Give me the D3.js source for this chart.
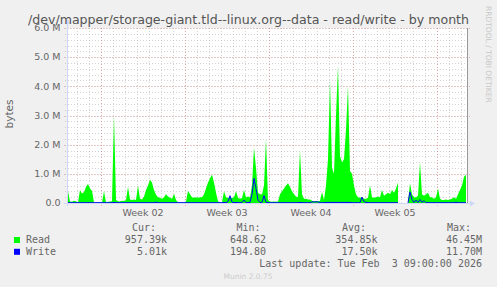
<!DOCTYPE html>
<html>
<head>
<meta charset="utf-8">
<script src="https://cdn.jsdelivr.net/npm/d3@7"></script>
<style>
  body { margin: 0; background: #f0f0f0; }
  svg { display: block; }
</style>
</head>
<body>
<div id="chart"></div>
<script>
// read / write throughput, MB per 4h bucket (two rrd pixels each)
var read = [
  0.40, 0.05, 0.04, 0.08, 0.06, 0.03, 0.45, 0.33, 0.38, 0.55,
  0.65, 0.50, 0.42, 0.03, 0.02, 0.02, 0.03, 0.02, 0.40, 0.03,
  0.04, 0.05, 0.06, 3.00, 0.10, 0.06, 0.05, 0.08, 0.07, 0.10,
  0.55, 0.12, 0.10, 0.12, 0.10, 0.60, 0.15, 0.12, 0.22, 0.45,
  0.60, 0.80, 0.70, 0.45, 0.28, 0.20, 0.18, 0.15, 0.20, 0.30,
  0.22, 0.18, 0.15, 0.32, 0.10, 0.03, 0.02, 0.02, 0.03, 0.05,
  0.42, 0.30, 0.20, 0.18, 0.20, 0.18, 0.20, 0.20, 0.30, 0.50,
  0.70, 0.85, 0.97, 0.70, 0.35, 0.06, 0.03, 0.03, 0.40, 0.20,
  0.17, 0.20, 0.17, 0.20, 0.40, 0.18, 0.15, 0.17, 0.45, 0.20,
  0.22, 0.20, 0.60, 1.90, 1.20, 0.35, 0.30, 0.30, 0.60, 2.20,
  0.10, 0.05, 0.04, 0.05, 0.04, 0.05, 0.30, 0.40, 0.50, 0.60,
  0.68, 0.55, 0.40, 0.30, 0.22, 0.20, 1.80, 0.30, 0.15, 0.15,
  0.12, 0.12, 0.08, 0.06, 0.07, 0.06, 0.08, 0.38, 0.10, 0.60,
  1.50, 4.20, 1.20, 1.00, 3.00, 4.70, 1.60, 1.40, 1.50, 2.50,
  4.00, 1.10, 1.00, 0.60, 0.30, 0.20, 0.18, 0.20, 0.15, 0.15,
  0.18, 0.60, 0.20, 0.18, 0.20, 0.22, 0.20, 0.45, 0.25, 0.30,
  0.35, 0.30, 0.45, 0.35, 0.50, 0.70, null, null, null, null,
  0.05, 0.68, 0.30, 0.20, 0.20, 0.25, 1.40, 0.30, 0.25, 0.30,
  0.35, 0.20, 0.20, 0.15, 0.20, 0.50, 0.15, 0.10, 0.10, 0.12,
  0.10, 0.12, 0.15, 0.20, 0.15, 0.30, 0.45, 0.60, 0.90, 0.97
];
var write = [
  0.01, 0.01, 0.01, 0.01, 0.01, 0.01, 0.01, 0.01, 0.01, 0.01,
  0.01, 0.01, 0.01, 0.01, 0.01, 0.01, 0.01, 0.01, 0.01, 0.01,
  0.01, 0.01, 0.01, 0.02, 0.01, 0.01, 0.01, 0.01, 0.01, 0.01,
  0.01, 0.01, 0.01, 0.01, 0.01, 0.01, 0.01, 0.01, 0.01, 0.01,
  0.01, 0.01, 0.01, 0.01, 0.03, 0.01, 0.01, 0.01, 0.01, 0.01,
  0.01, 0.01, 0.01, 0.01, 0.01, 0.01, 0.01, 0.01, 0.01, 0.01,
  0.01, 0.01, 0.01, 0.01, 0.01, 0.01, 0.01, 0.01, 0.01, 0.01,
  0.01, 0.01, 0.01, 0.01, 0.01, 0.01, 0.01, 0.01, 0.02, 0.01,
  0.05, 0.25, 0.03, 0.01, 0.02, 0.01, 0.01, 0.02, 0.10, 0.02,
  0.01, 0.02, 0.30, 0.84, 0.50, 0.10, 0.02, 0.02, 0.25, 0.03,
  0.01, 0.01, 0.01, 0.01, 0.01, 0.01, 0.01, 0.01, 0.01, 0.01,
  0.01, 0.01, 0.01, 0.01, 0.01, 0.01, 0.02, 0.01, 0.01, 0.01,
  0.01, 0.01, 0.04, 0.04, 0.04, 0.04, 0.01, 0.01, 0.01, 0.02,
  0.02, 0.02, 0.02, 0.02, 0.02, 0.02, 0.02, 0.02, 0.02, 0.02,
  0.02, 0.02, 0.01, 0.01, 0.01, 0.01, 0.01, 0.20, 0.05, 0.02,
  0.01, 0.01, 0.01, 0.01, 0.01, 0.01, 0.01, 0.01, 0.01, 0.01,
  0.01, 0.01, 0.01, 0.01, 0.01, 0.01, null, null, null, null,
  0.01, 0.38, 0.12, 0.02, 0.10, 0.02, 0.12, 0.02, 0.08, 0.01,
  0.01, 0.01, 0.01, 0.01, 0.01, 0.01, 0.01, 0.01, 0.01, 0.01,
  0.01, 0.01, 0.01, 0.01, 0.03, 0.01, 0.01, 0.01, 0.01, 0.01
];
var yTicks = [0, 1, 2, 3, 4, 5, 6];
var legendHead = ["Cur:", "Min:", "Avg:", "Max:"];
var readStats = ["957.39k", "648.62", "354.85k", "46.45M"];
var writeStats = ["5.01k", "194.80", "17.50k", "11.70M"];
var series = ["Read", "Write"];
var colors = ["#00ff00", "#0000ff"];

var start = Date.UTC(2026, 0, 2, 4);   // left edge of the graph
var step = 4 * 3600 * 1000;
var width = 497, height = 287;
var plotL = 67, plotR = 467, plotT = 28, plotB = 203;
var minorCol = "rgba(160,160,160,0.45)";
var majorCol = "rgba(225,120,120,0.5)";

var svg = d3.select("#chart").append("svg")
  .attr("width", width)
  .attr("height", height);

svg.append("rect").attr("width", width).attr("height", height).attr("fill", "#f0f0f0");

var x = d3.scaleUtc()
  .domain([new Date(start), new Date(start + 200 * step)])
  .range([plotL, plotR]);
var y = d3.scaleLinear().domain([0, 6]).range([plotB, plotT]);

var px = function(v) { return Math.round(v) + 0.5; };

svg.append("rect")
  .attr("x", plotL).attr("y", plotT)
  .attr("width", plotR - plotL).attr("height", plotB - plotT)
  .attr("fill", "#fff");

// grid
var grid = svg.append("g").attr("shape-rendering", "crispEdges");
y.ticks(30).forEach(function(v) {
  grid.append("line")
    .attr("x1", plotL - 2).attr("x2", plotR + 2)
    .attr("y1", px(y(v))).attr("y2", px(y(v)))
    .attr("stroke", minorCol)
    .attr("stroke-dasharray", "1,2");
});
d3.utcDay.range(x.domain()[0], x.domain()[1]).forEach(function(d) {
  grid.append("line")
    .attr("x1", px(x(d))).attr("x2", px(x(d)))
    .attr("y1", plotT).attr("y2", plotB + 2)
    .attr("stroke", minorCol)
    .attr("stroke-dasharray", "1,2");
});
yTicks.forEach(function(v) {
  grid.append("line")
    .attr("x1", plotL - 3).attr("x2", plotR + 3)
    .attr("y1", px(y(v))).attr("y2", px(y(v)))
    .attr("stroke", majorCol)
    .attr("stroke-dasharray", "1,2");
});
var mondays = d3.utcMonday.range(x.domain()[0], x.domain()[1]);
mondays.forEach(function(d) {
  grid.append("line")
    .attr("x1", px(x(d))).attr("x2", px(x(d)))
    .attr("y1", plotT).attr("y2", plotB + 3)
    .attr("stroke", majorCol)
    .attr("stroke-dasharray", "1,2");
});

// data
var pts = function(arr) {
  return arr.map(function(v, i) { return {t: new Date(start + i * step + step / 2), v: v}; });
};

var area = d3.area()
  .defined(function(d) { return d.v != null; })
  .x(function(d) { return x(d.t); })
  .y0(y(0))
  .y1(function(d) { return y(d.v); });

svg.append("path")
  .datum(pts(read))
  .attr("d", area)
  .attr("fill", colors[0]);

var line = d3.line()
  .defined(function(d) { return d.v != null; })
  .x(function(d) { return x(d.t); })
  .y(function(d) { return y(d.v); });

svg.append("path")
  .datum(pts(write))
  .attr("d", line)
  .attr("fill", "none")
  .attr("stroke", colors[1])
  .attr("stroke-width", 1);

// axes
svg.append("line")
  .attr("x1", plotR + 0.5).attr("x2", plotR + 0.5)
  .attr("y1", plotT).attr("y2", plotB)
  .attr("stroke", "#999");
svg.append("line")
  .attr("x1", plotL - 3).attr("x2", plotR + 3)
  .attr("y1", plotB + 0.5).attr("y2", plotB + 0.5)
  .attr("stroke", "#cfd6f8");
svg.append("line")
  .attr("x1", plotL + 0.5).attr("x2", plotL + 0.5)
  .attr("y1", plotB + 3).attr("y2", plotT - 4)
  .attr("stroke", "#cfd6f8");
svg.append("path")
  .attr("d", "M" + (plotR + 3) + "," + (plotB - 2.5) + "l5,3l-5,3z")
  .attr("fill", "#cfd6f8");
svg.append("path")
  .attr("d", "M" + (plotL - 2.5) + "," + (plotT - 4) + "l3,-5l3,5z")
  .attr("fill", "#cfd6f8");

var font = "DejaVu Sans";
var mono = "DejaVu Sans Mono";

yTicks.forEach(function(v) {
  svg.append("text")
    .attr("x", 60.5).attr("y", y(v)).attr("dy", "0.35em")
    .attr("text-anchor", "end")
    .attr("font-family", font).attr("font-size", 9.5)
    .attr("fill", "#666")
    .text(v === 0 ? "0.0" : v.toFixed(1) + " M");
});

mondays.forEach(function(d) {
  var mid = x(d3.utcHour.offset(d, 84));
  if (mid < plotL || mid > plotR) return;
  svg.append("text")
    .attr("x", mid).attr("y", 216)
    .attr("text-anchor", "middle")
    .attr("font-family", font).attr("font-size", 9.5)
    .attr("fill", "#666")
    .text("Week " + d3.utcFormat("%V")(d));
});

svg.append("text")
  .attr("x", 248.5).attr("y", 24)
  .attr("text-anchor", "middle")
  .attr("font-family", font).attr("font-size", 12.6)
  .attr("fill", "#555")
  .text("/dev/mapper/storage-giant.tld--linux.org--data - read/write - by month");

svg.append("text")
  .attr("transform", "translate(13,114) rotate(-90)")
  .attr("text-anchor", "middle")
  .attr("font-family", font).attr("font-size", 10.5)
  .attr("fill", "#666")
  .text("bytes");

svg.append("text")
  .attr("transform", "translate(486,6) rotate(90)")
  .attr("font-family", font).attr("font-size", 7.5)
  .attr("fill", "#c8c8c8")
  .text("RRDTOOL / TOBI OETIKER");

// legend
var headX = [132, 236.5, 342, 447];
var valX = [167, 266, 377.5, 482];
legendHead.forEach(function(h, i) {
  svg.append("text")
    .attr("x", headX[i]).attr("y", 230.5)
    .attr("font-family", mono).attr("font-size", 10)
    .attr("fill", "#666")
    .text(h);
});
[readStats, writeStats].forEach(function(row, r) {
  var by = 243.3 + r * 11.8;
  svg.append("rect")
    .attr("x", 14).attr("y", by - 6.3)
    .attr("width", 6).attr("height", 6)
    .attr("fill", colors[r]);
  svg.append("text")
    .attr("x", 26).attr("y", by)
    .attr("font-family", mono).attr("font-size", 10)
    .attr("fill", "#666")
    .text(series[r]);
  row.forEach(function(s, i) {
    svg.append("text")
      .attr("x", valX[i]).attr("y", by)
      .attr("text-anchor", "end")
      .attr("font-family", mono).attr("font-size", 10)
      .attr("fill", "#666")
      .text(s);
  });
});

svg.append("text")
  .attr("x", 482).attr("y", 266.7)
  .attr("text-anchor", "end")
  .attr("font-family", mono).attr("font-size", 10)
  .attr("fill", "#666")
  .style("white-space", "pre")
  .text("Last update: Tue Feb  3 09:00:00 2026");

svg.append("text")
  .attr("x", 248).attr("y", 279)
  .attr("text-anchor", "middle")
  .attr("font-family", font).attr("font-size", 7.5)
  .attr("fill", "#cccccc")
  .text("Munin 2.0.75");
</script>
</body>
</html>
